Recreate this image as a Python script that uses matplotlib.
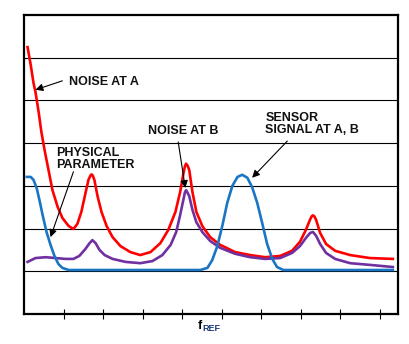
import matplotlib.pyplot as plt

# curves (x in tick units, y in grid units)
noise_a_x = [0.09, 0.17, 0.24, 0.29, 0.37, 0.44, 0.52, 0.62, 0.72, 0.85, 0.97, 1.13, 1.25,
             1.35, 1.45, 1.55, 1.63, 1.68, 1.71, 1.74, 1.78, 1.86, 1.96, 2.09, 2.24, 2.44,
             2.69, 2.94, 3.20, 3.45, 3.65, 3.83, 3.95, 4.03, 4.07, 4.10, 4.14, 4.18, 4.26,
             4.36, 4.51, 4.71, 4.96, 5.34, 5.72, 6.10, 6.48, 6.78, 6.98, 7.13, 7.24, 7.28,
             7.31, 7.35, 7.39, 7.49, 7.64, 7.87, 8.25, 8.75, 9.33]
noise_a_y = [6.25, 5.83, 5.41, 5.20, 4.73, 4.26, 3.84, 3.37, 2.90, 2.51, 2.25, 2.06, 1.99,
             2.11, 2.39, 2.81, 3.14, 3.24, 3.27, 3.24, 3.14, 2.76, 2.39, 2.06, 1.80, 1.59,
             1.45, 1.38, 1.45, 1.66, 1.97, 2.39, 2.86, 3.28, 3.46, 3.52, 3.47, 3.37, 2.86,
             2.39, 2.06, 1.80, 1.62, 1.45, 1.38, 1.33, 1.36, 1.48, 1.69, 1.97, 2.22, 2.29,
             2.31, 2.28, 2.20, 1.90, 1.64, 1.48, 1.38, 1.31, 1.29]

phys_x = [0.09, 0.29, 0.55, 0.80, 1.05, 1.25, 1.40, 1.55, 1.66, 1.73, 1.81, 1.91, 2.04,
          2.24, 2.57, 2.94, 3.25, 3.50, 3.71, 3.85, 3.95, 4.03, 4.07, 4.10, 4.13, 4.18,
          4.26, 4.36, 4.51, 4.71, 4.96, 5.34, 5.72, 6.10, 6.48, 6.78, 6.98, 7.13, 7.24,
          7.31, 7.39, 7.49, 7.64, 7.87, 8.25, 8.75, 9.33]
phys_y = [1.22, 1.31, 1.33, 1.31, 1.29, 1.29, 1.36, 1.52, 1.66, 1.73, 1.66, 1.50, 1.38,
          1.29, 1.22, 1.19, 1.24, 1.38, 1.62, 1.92, 2.32, 2.67, 2.85, 2.90, 2.85, 2.76,
          2.44, 2.15, 1.92, 1.71, 1.55, 1.41, 1.33, 1.29, 1.31, 1.43, 1.59, 1.78, 1.90,
          1.92, 1.83, 1.64, 1.43, 1.29, 1.19, 1.15, 1.10]

sensor_x = [0.07, 0.17, 0.24, 0.32, 0.39, 0.47, 0.57, 0.67, 0.77, 0.87, 0.97, 1.13, 4.46,
            4.64, 4.76, 4.89, 5.02, 5.14, 5.27, 5.40, 5.52, 5.65, 5.77, 5.90, 6.03, 6.15,
            6.28, 6.40, 6.56, 9.33]
sensor_y = [3.21, 3.21, 3.14, 2.95, 2.67, 2.32, 1.92, 1.62, 1.36, 1.17, 1.08, 1.03, 1.03,
            1.08, 1.26, 1.59, 2.08, 2.60, 3.00, 3.21, 3.26, 3.19, 2.97, 2.60, 2.11, 1.64,
            1.29, 1.10, 1.03, 1.03]

x_ticks = [1, 2, 3, 4, 5, 6, 7, 8, 9]
y_grid = [1, 2, 3, 4, 5, 6]

plt.rcParams['font.family'] = ['Liberation Sans', 'DejaVu Sans']

fig = plt.figure(figsize=(4.09, 3.44), dpi=100)
ax = fig.add_axes([0.0587, 0.0872, 0.9144, 0.869])

for g in y_grid:
    ax.axhline(g, color='black', linewidth=0.8, zorder=1)

ax.plot(noise_a_x, noise_a_y, color='#ff0000', linewidth=1.9, zorder=3)
ax.plot(phys_x, phys_y, color='#7030a0', linewidth=1.9, zorder=3)
ax.plot(sensor_x, sensor_y, color='#1a75c4', linewidth=1.9, zorder=4)

ax.set_xlim(0, 9.46)
ax.set_ylim(0, 7)
ax.set_xticks(x_ticks)
ax.set_xticklabels([])
ax.set_yticks([])
ax.tick_params(axis='x', direction='inout', length=7, width=0.8)
for s in ax.spines.values():
    s.set_linewidth(1.6)

# labels and arrows
arrow = dict(arrowstyle='-|>', color='black', lw=0.8, mutation_scale=11,
             shrinkA=0, shrinkB=0)
txt = dict(fontsize=9, fontweight='bold', color='#111111', va='center', ha='left',
           linespacing=0.95)

ax.text(1.13, 5.43, "NOISE AT A", **txt)
ax.annotate("", xy=(0.29, 5.25), xytext=(0.97, 5.46), arrowprops=arrow)

ax.text(0.80, 3.63, "PHYSICAL\nPARAMETER", **txt)
ax.annotate("", xy=(0.67, 1.80), xytext=(1.25, 3.33), arrowprops=arrow)

ax.text(3.14, 4.29, "NOISE AT B", **txt)
ax.annotate("", xy=(4.08, 2.95), xytext=(3.90, 4.03), arrowprops=arrow)

ax.text(6.10, 4.45, "SENSOR\nSIGNAL AT A, B", **txt)
ax.annotate("", xy=(5.77, 3.19), xytext=(6.66, 4.05), arrowprops=arrow)

# x label f_REF
fig.text(0.483, 0.0436, "f", fontsize=9, fontweight='bold', color='black',
         ha='left', va='baseline')
fig.text(0.494, 0.0378, "REF", fontsize=6.5, fontweight='bold', color='#1f3a78',
         ha='left', va='baseline')

fig.savefig("out.png", dpi=100)
